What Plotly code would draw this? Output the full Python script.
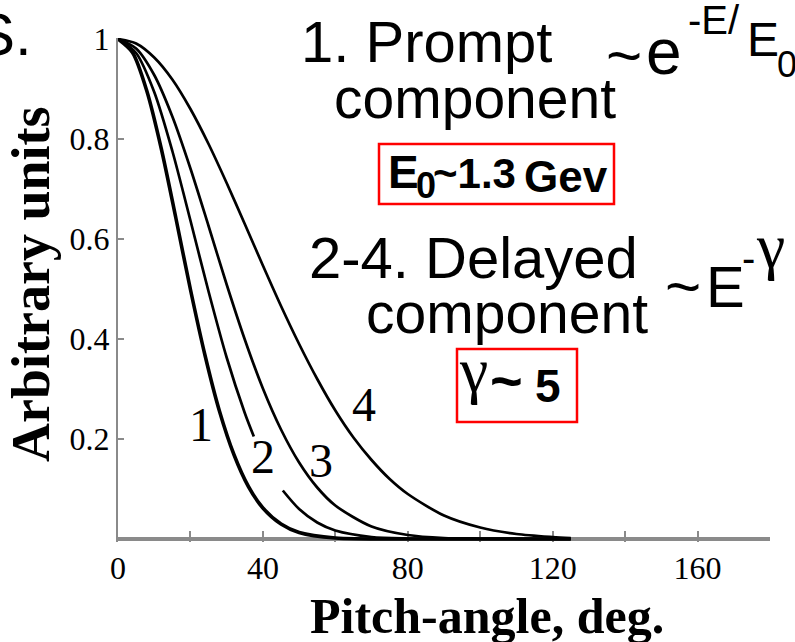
import plotly.graph_objects as go

# ---- data ----
x1 = [0, 4, 8, 12, 16, 20, 24, 28, 32, 36, 40, 45, 50, 60, 80, 100, 125]
y1 = [1.0, 0.973, 0.895, 0.779, 0.641, 0.499, 0.368, 0.256, 0.169, 0.105, 0.062, 0.030, 0.013, 0.002, 0.0, 0.0, 0.0]

x2 = [0, 5, 10, 15, 20, 25, 30, 35, 37.5, None, 45.5, 50, 55, 60, 70, 80, 100, 125]
y2 = [1.0, 0.972, 0.894, 0.776, 0.637, 0.495, 0.363, 0.252, 0.205, None, 0.097, 0.060, 0.033, 0.017, 0.004, 0.001, 0.0, 0.0]

x3 = [0, 5, 10, 15, 20, 25, 30, 35, 40, 45, 50, 55, 60, 70, 80, 90, 100, 125]
y3 = [1.0, 0.981, 0.928, 0.845, 0.741, 0.626, 0.509, 0.399, 0.301, 0.219, 0.153, 0.103, 0.067, 0.025, 0.008, 0.002, 0.001, 0.0]

x4 = [0, 5, 10, 15, 20, 25, 30, 35, 40, 45, 50, 55, 60, 65, 70, 75, 80, 90, 100, 110, 120, 125]
y4 = [1.0, 0.991, 0.963, 0.919, 0.860, 0.790, 0.712, 0.630, 0.547, 0.466, 0.390, 0.320, 0.257,
      0.203, 0.158, 0.120, 0.090, 0.047, 0.023, 0.010, 0.004, 0.002]

curve_names = ["1", "2", "3", "4"]
curve_label_x = [23, 40, 56, 68]
curve_label_y = [0.23, 0.165, 0.158, 0.27]

x_tick_vals = [0, 20, 40, 60, 80, 100, 120, 140, 160]
x_tick_text = ["0", "", "40", "", "80", "", "120", "", "160"]
y_tick_vals = [0.2, 0.4, 0.6, 0.8, 1.0]
y_tick_text = ["0.2", "0.4", "0.6", "0.8", "1"]

# ---- layout helpers (pixel -> paper) ----
L, R, T, B = 118, 25, 38, 100
W, H = 795, 642
PW, PH = W - L - R, H - T - B


def px(xp):
    return (xp - L) / PW


def py(yp):
    return (H - B - yp) / PH


fig = go.Figure()
widths = [3.6, 2.7, 2.7, 2.7]
for xs, ys, w in zip([x1, x2, x3, x4], [y1, y2, y3, y4], widths):
    fig.add_trace(go.Scatter(x=xs, y=ys, mode="lines",
                             line=dict(color="black", width=w, shape="spline", smoothing=0.8),
                             connectgaps=False, showlegend=False, hoverinfo="skip"))

serif = "Liberation Serif"
sans = "Liberation Sans"
ann = []

# curve labels (data coords)
for n, lx, ly in zip(curve_names, curve_label_x, curve_label_y):
    ann.append(dict(x=lx, y=ly, xref="x", yref="y", text=n, showarrow=False,
                    font=dict(family=serif, size=48, color="black"),
                    xanchor="center", yanchor="middle"))


def t(text, xp, yp, size, family=sans, xanchor="left", angle=0):
    ann.append(dict(x=px(xp), y=py(yp), xref="paper", yref="paper", text=text,
                    showarrow=False, font=dict(family=family, size=size, color="black"),
                    xanchor=xanchor, yanchor="middle", textangle=angle))


# axis titles
t("<b>Arbitrary units</b>", 31, 285, 54, serif, "center", -90)
t("<b>Pitch-angle, deg.</b>", 487, 616, 50, serif, "center")

# top-left fragment
t("S.", 34, 34, 60, sans, "right")

# prompt component
t("1. Prompt", 299, 42, 58)
t("component", 332, 98, 57)
t("~", 604, 56, 62)
t("e", 644, 52, 64)
t("-E/", 686, 20, 40)
t("E", 745, 40, 48)
t("0", 775, 64, 36)

# box 1 text
t("<b>E</b>", 386, 172, 46)
t("<b>0</b>", 414, 186, 36)
t("<b>~1.3</b>", 431, 173, 42)
t("<b>Gev</b>", 522, 176, 44)

# delayed component
t("2-4. Delayed", 307, 257, 58)
t("component", 364, 313, 57)
t("~", 663, 286, 62)
t("E", 704, 286, 58)
t("-", 740, 258, 40)
t("γ", 754, 245, 64, serif)

# box 2 text
t("γ", 457, 369, 64, serif)
t("<b>~</b>", 488, 380, 56)
t("<b>5</b>", 533, 386, 46)

shapes = [
    dict(type="rect", xref="paper", yref="paper", x0=px(379), x1=px(614), y0=py(144), y1=py(204),
         line=dict(color="#ff0000", width=2.5)),
    dict(type="rect", xref="paper", yref="paper", x0=px(457), x1=px(577), y0=py(349), y1=py(422),
         line=dict(color="#ff0000", width=2.5)),
]

fig.update_layout(
    width=W, height=H, margin=dict(l=L, r=R, t=T, b=B),
    paper_bgcolor="white", plot_bgcolor="white",
    annotations=ann, shapes=shapes, showlegend=False,
    xaxis=dict(range=[0, 180], tickvals=x_tick_vals, ticktext=x_tick_text,
               ticks="inside", ticklen=11, tickwidth=2, tickcolor="#8a8a8a",
               showgrid=False, zeroline=False, showline=False,
               tickfont=dict(family=serif, size=32, color="black"),
               ticklabelstandoff=4,
               layer="below traces"),
    yaxis=dict(range=[-0.006, 1.002], tickvals=y_tick_vals, ticktext=y_tick_text,
               ticks="inside", ticklen=6, tickwidth=2, tickcolor="#8a8a8a",
               showgrid=False, zeroline=True, zerolinecolor="#8a8a8a", zerolinewidth=4,
               showline=True, linecolor="#8a8a8a", linewidth=2,
               tickfont=dict(family=serif, size=32, color="black"),
               layer="below traces"),
)

fig.write_html("out.html")
